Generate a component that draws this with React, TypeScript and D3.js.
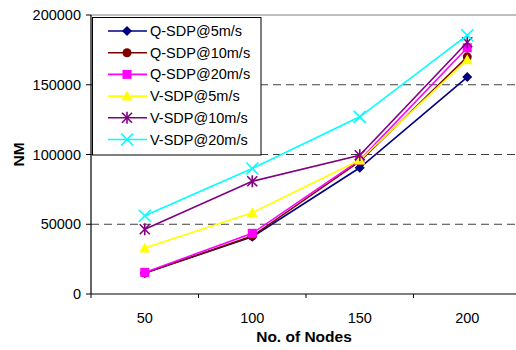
import React from "react";
import * as d3 from "d3";

const categories = ["50", "100", "150", "200"];
const seriesNames = ["Q-SDP@5m/s", "Q-SDP@10m/s", "Q-SDP@20m/s", "V-SDP@5m/s", "V-SDP@10m/s", "V-SDP@20m/s"];
const qsdp5 = [15000, 41000, 90500, 155500];
const qsdp10 = [15000, 41500, 95000, 170000];
const qsdp20 = [15500, 43500, 96000, 176500];
const vsdp5 = [33000, 58300, 96000, 168000];
const vsdp10 = [46400, 80800, 99500, 180500];
const vsdp20 = [56100, 90000, 127000, 185500];
const yTicks = [0, 50000, 100000, 150000, 200000];

const seriesValues = [qsdp5, qsdp10, qsdp20, vsdp5, vsdp10, vsdp20];
const colors = ["#000080", "#800000", "#FF00FF", "#FFFF00", "#800080", "#00FFFF"];
const markers = ["diamond", "circle", "square", "triangle", "star", "x"];

const W = 516, H = 350;
const left = 91, right = 521, top = 15, bottom = 294;

function Marker({ type, x, y, color }: { type: string; x: number; y: number; color: string }) {
  switch (type) {
    case "diamond":
      return <path d={`M${x},${y - 5}L${x + 5},${y}L${x},${y + 5}L${x - 5},${y}Z`} fill={color} />;
    case "circle":
      return <circle cx={x} cy={y} r={4.5} fill={color} />;
    case "square":
      return <rect x={x - 4.5} y={y - 4.5} width={9} height={9} fill={color} />;
    case "triangle":
      return <path d={`M${x},${y - 5.5}L${x + 5.5},${y + 4.5}L${x - 5.5},${y + 4.5}Z`} fill={color} />;
    case "star":
      return (
        <g stroke={color} strokeWidth={1.6}>
          <line x1={x - 5} y1={y - 5} x2={x + 5} y2={y + 5} />
          <line x1={x - 5} y1={y + 5} x2={x + 5} y2={y - 5} />
          <line x1={x} y1={y - 6} x2={x} y2={y + 6} />
        </g>
      );
    case "x":
      return (
        <g stroke={color} strokeWidth={1.6}>
          <line x1={x - 6} y1={y - 6} x2={x + 6} y2={y + 6} />
          <line x1={x - 6} y1={y + 6} x2={x + 6} y2={y - 6} />
        </g>
      );
    default:
      return null;
  }
}

export default function App() {
  const x = d3.scaleBand<string>().domain(categories).range([left, right]);
  const y = d3.scaleLinear().domain([0, 200000]).range([bottom, top]);
  const cx = (c: string) => (x(c) as number) + x.bandwidth() / 2;
  const line = d3
    .line<number>()
    .x((_, i) => cx(categories[i]))
    .y((d) => y(d));
  const font = "'Liberation Sans', Arial, sans-serif";
  const tickEdges = categories.map((c) => x(c) as number).concat([right]);

  return (
    <svg width={W} height={H} style={{ position: "absolute", left: 0, top: 0, background: "#fff" }} fontFamily={font}>
      {/* grid */}
      {yTicks.filter((t) => t > 0 && t < 200000).map((t) => (
        <line key={t} x1={left} x2={right} y1={y(t)} y2={y(t)} stroke="#404040" strokeWidth={1} strokeDasharray="8,5" />
      ))}
      <line x1={left} x2={right} y1={y(200000)} y2={y(200000)} stroke="#808080" strokeWidth={1.2} />
      {/* axes */}
      <line x1={left} x2={left} y1={top} y2={bottom} stroke="#000" strokeWidth={1.2} />
      <line x1={left} x2={right} y1={bottom} y2={bottom} stroke="#000" strokeWidth={1.2} />
      {yTicks.map((t) => (
        <g key={t}>
          <line x1={left - 5} x2={left} y1={y(t)} y2={y(t)} stroke="#000" />
          <text x={81} y={y(t)} dy="0.35em" textAnchor="end" fontSize={14.5}>
            {t}
          </text>
        </g>
      ))}
      {tickEdges.map((e, i) => (
        <line key={i} x1={e} x2={e} y1={bottom} y2={bottom + 4} stroke="#000" />
      ))}
      {categories.map((c) => (
        <text key={c} x={cx(c)} y={323} textAnchor="middle" fontSize={14.5}>
          {c}
        </text>
      ))}
      <text x={304} y={342} textAnchor="middle" fontSize={15.5} fontWeight="bold">
        No. of Nodes
      </text>
      <text transform={`translate(24,${(top + bottom) / 2}) rotate(-90)`} textAnchor="middle" fontSize={15.5} fontWeight="bold">
        NM
      </text>
      {/* series */}
      {seriesValues.map((vals, si) => (
        <g key={si}>
          <path d={line(vals) || ""} fill="none" stroke={colors[si]} strokeWidth={1.6} />
          {vals.map((v, i) => (
            <Marker key={i} type={markers[si]} x={cx(categories[i])} y={y(v)} color={colors[si]} />
          ))}
        </g>
      ))}
      {/* legend */}
      <rect x={92.5} y={17.5} width={168.5} height={137.5} fill="#fff" stroke="#000" strokeWidth={1} />
      {seriesNames.map((n, i) => {
        const ly = 31 + i * 21.7;
        return (
          <g key={n}>
            <line x1={108} x2={147} y1={ly} y2={ly} stroke={colors[i]} strokeWidth={1.6} />
            <Marker type={markers[i]} x={127} y={ly} color={colors[i]} />
            <text x={150} y={ly} dy="0.35em" fontSize={14.5}>
              {n}
            </text>
          </g>
        );
      })}
    </svg>
  );
}
